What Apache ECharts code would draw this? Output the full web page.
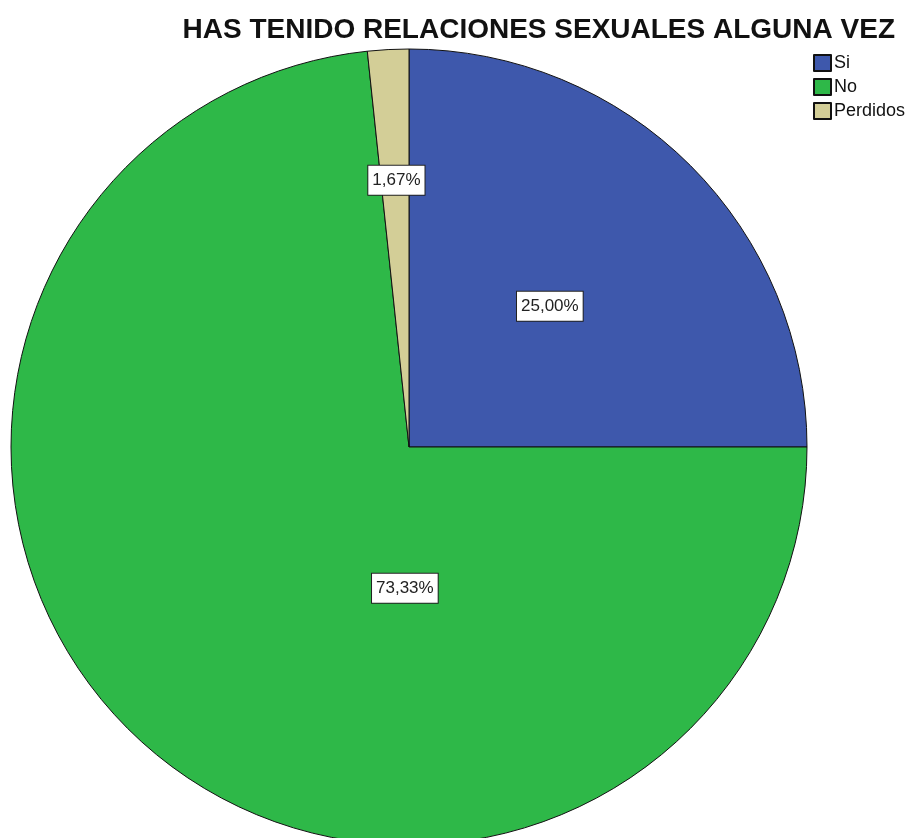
<!DOCTYPE html>
<html>
<head>
<meta charset="utf-8">
<script src="https://cdn.jsdelivr.net/npm/echarts@6/dist/echarts.min.js"></script>
<style>
  html, body { margin: 0; padding: 0; background: #fff; }
  #chart { width: 911px; height: 838px; }
</style>
</head>
<body>
<div id="chart"></div>
<script>
const categories = ['Si', 'No', 'Perdidos']
const percents = [25.00, 73.33, 1.67]
const colors = ['#3E58AC', '#2EB848', '#D3CE97']
// nudges so labels sit where SPSS put them
const labelShift = [[-2, 2], [131, -9], [-2, -65]]

const chart = echarts.init(document.getElementById('chart'))
chart.setOption({
  animation: false,
  title: {
    text: 'HAS TENIDO RELACIONES SEXUALES ALGUNA VEZ',
    right: 11, top: 11,
    textStyle: { fontFamily: 'Liberation Sans', fontSize: 28, fontWeight: 'bold', color: '#111' }
  },
  legend: {
    orient: 'vertical', left: 808, top: 49,
    icon: 'rect', itemWidth: 17, itemHeight: 16, itemGap: 6,
    textStyle: { fontFamily: 'Liberation Sans', fontSize: 18, color: '#111', padding: [0, 0, 0, -2] },
    data: categories
  },
  series: [{
    type: 'pie',
    center: [409, 447],
    radius: 398,
    startAngle: 90,
    clockwise: true,
    silent: true,
    itemStyle: { borderColor: '#111', borderWidth: 1 },
    label: {
      position: 'inside',
      formatter: p => p.value.toFixed(2).replace('.', ',') + '%',
      fontFamily: 'Liberation Sans', fontSize: 17, color: '#222',
      backgroundColor: '#fff', borderColor: '#222', borderWidth: 1,
      padding: [6, 4, 6, 4]
    },
    labelLine: { show: false },
    labelLayout: p => ({ dx: labelShift[p.dataIndex][0], dy: labelShift[p.dataIndex][1] }),
    data: categories.map((c, i) => ({ name: c, value: percents[i], itemStyle: { color: colors[i] } }))
  }]
})
</script>
</body>
</html>
